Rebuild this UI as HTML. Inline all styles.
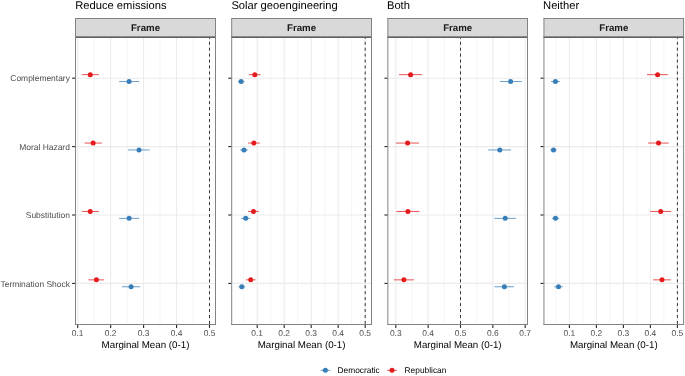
<!DOCTYPE html>
<html><head><meta charset="utf-8"><style>
html,body{margin:0;padding:0;background:#fff;width:685px;height:376px;overflow:hidden}
text{font-family:"Liberation Sans",Arial,sans-serif;text-rendering:geometricPrecision}
.ttl{font-size:11.2px;fill:#000}
.strip{font-size:9.7px;font-weight:bold;fill:#1A1A1A}
.ax{font-size:8.45px;fill:#4D4D4D}
.axt{font-size:9.75px;fill:#000}
.leg{font-size:8.35px;fill:#000}
</style></head><body>
<svg width="685" height="376" viewBox="0 0 685 376" style="display:block">
<rect width="685" height="376" fill="#fff"/>
<text x="75.20" y="9.1" class="ttl">Reduce emissions</text>
<rect x="75.50" y="18" width="140.00" height="19" fill="#D9D9D9"/>
<text x="145.50" y="30.8" class="strip" text-anchor="middle">Frame</text>
<rect x="75.50" y="38" width="140.00" height="286.00" fill="#fff"/>
<line x1="94.17" y1="38" x2="94.17" y2="324" stroke="#EBEBEB" stroke-width="0.53"/>
<line x1="127.12" y1="38" x2="127.12" y2="324" stroke="#EBEBEB" stroke-width="0.53"/>
<line x1="160.07" y1="38" x2="160.07" y2="324" stroke="#EBEBEB" stroke-width="0.53"/>
<line x1="193.03" y1="38" x2="193.03" y2="324" stroke="#EBEBEB" stroke-width="0.53"/>
<line x1="75.50" y1="78.2" x2="215.50" y2="78.2" stroke="#EBEBEB" stroke-width="1.07"/>
<line x1="75.50" y1="146.6" x2="215.50" y2="146.6" stroke="#EBEBEB" stroke-width="1.07"/>
<line x1="75.50" y1="215.0" x2="215.50" y2="215.0" stroke="#EBEBEB" stroke-width="1.07"/>
<line x1="75.50" y1="283.4" x2="215.50" y2="283.4" stroke="#EBEBEB" stroke-width="1.07"/>
<line x1="77.70" y1="38" x2="77.70" y2="324" stroke="#EBEBEB" stroke-width="1.07"/>
<line x1="110.65" y1="38" x2="110.65" y2="324" stroke="#EBEBEB" stroke-width="1.07"/>
<line x1="143.60" y1="38" x2="143.60" y2="324" stroke="#EBEBEB" stroke-width="1.07"/>
<line x1="176.55" y1="38" x2="176.55" y2="324" stroke="#EBEBEB" stroke-width="1.07"/>
<line x1="209.50" y1="38" x2="209.50" y2="324" stroke="#EBEBEB" stroke-width="1.07"/>
<line x1="209.50" y1="323.9" x2="209.50" y2="38" stroke="#333" stroke-width="1.0" stroke-dasharray="2.97 2.97"/>
<line x1="119.10" y1="81.55" x2="139.20" y2="81.55" stroke="#377EB8" stroke-width="0.75"/>
<circle cx="129.10" cy="81.55" r="2.5" fill="#377EB8"/>
<line x1="82.00" y1="74.65" x2="98.90" y2="74.65" stroke="#E41A1C" stroke-width="0.75"/>
<circle cx="90.30" cy="74.65" r="2.5" fill="#E41A1C"/>
<line x1="128.10" y1="149.95" x2="149.70" y2="149.95" stroke="#377EB8" stroke-width="0.75"/>
<circle cx="139.00" cy="149.95" r="2.5" fill="#377EB8"/>
<line x1="84.60" y1="143.05" x2="101.90" y2="143.05" stroke="#E41A1C" stroke-width="0.75"/>
<circle cx="93.10" cy="143.05" r="2.5" fill="#E41A1C"/>
<line x1="119.10" y1="218.35" x2="139.20" y2="218.35" stroke="#377EB8" stroke-width="0.75"/>
<circle cx="129.10" cy="218.35" r="2.5" fill="#377EB8"/>
<line x1="82.00" y1="211.45" x2="98.90" y2="211.45" stroke="#E41A1C" stroke-width="0.75"/>
<circle cx="90.20" cy="211.45" r="2.5" fill="#E41A1C"/>
<line x1="122.00" y1="286.75" x2="140.20" y2="286.75" stroke="#377EB8" stroke-width="0.75"/>
<circle cx="131.10" cy="286.75" r="2.5" fill="#377EB8"/>
<line x1="88.40" y1="279.85" x2="104.20" y2="279.85" stroke="#E41A1C" stroke-width="0.75"/>
<circle cx="96.40" cy="279.85" r="2.5" fill="#E41A1C"/>
<line x1="75.00" y1="18.5" x2="216.00" y2="18.5" stroke="#828282" stroke-width="1"/>
<line x1="75.00" y1="36.5" x2="216.00" y2="36.5" stroke="#8A8A8A" stroke-width="1"/>
<line x1="75.00" y1="37.5" x2="216.00" y2="37.5" stroke="#606060" stroke-width="1"/>
<line x1="75.00" y1="324.5" x2="216.00" y2="324.5" stroke="#828282" stroke-width="1"/>
<line x1="75.50" y1="18" x2="75.50" y2="325" stroke="#828282" stroke-width="1"/>
<line x1="215.50" y1="18" x2="215.50" y2="325" stroke="#828282" stroke-width="1"/>
<line x1="72.10" y1="78.2" x2="75.00" y2="78.2" stroke="#262626" stroke-width="1.1"/>
<line x1="72.10" y1="146.6" x2="75.00" y2="146.6" stroke="#262626" stroke-width="1.1"/>
<line x1="72.10" y1="215.0" x2="75.00" y2="215.0" stroke="#262626" stroke-width="1.1"/>
<line x1="72.10" y1="283.4" x2="75.00" y2="283.4" stroke="#262626" stroke-width="1.1"/>
<line x1="77.70" y1="325" x2="77.70" y2="327.9" stroke="#262626" stroke-width="1.1"/>
<text x="77.70" y="336.2" class="ax" text-anchor="middle">0.1</text>
<line x1="110.65" y1="325" x2="110.65" y2="327.9" stroke="#262626" stroke-width="1.1"/>
<text x="110.65" y="336.2" class="ax" text-anchor="middle">0.2</text>
<line x1="143.60" y1="325" x2="143.60" y2="327.9" stroke="#262626" stroke-width="1.1"/>
<text x="143.60" y="336.2" class="ax" text-anchor="middle">0.3</text>
<line x1="176.55" y1="325" x2="176.55" y2="327.9" stroke="#262626" stroke-width="1.1"/>
<text x="176.55" y="336.2" class="ax" text-anchor="middle">0.4</text>
<line x1="209.50" y1="325" x2="209.50" y2="327.9" stroke="#262626" stroke-width="1.1"/>
<text x="209.50" y="336.2" class="ax" text-anchor="middle">0.5</text>
<text x="145.50" y="347.8" class="axt" text-anchor="middle">Marginal Mean (0-1)</text>
<text x="231.40" y="9.1" class="ttl">Solar geoengineering</text>
<rect x="231.70" y="18" width="139.80" height="19" fill="#D9D9D9"/>
<text x="301.60" y="30.8" class="strip" text-anchor="middle">Frame</text>
<rect x="231.70" y="38" width="139.80" height="286.00" fill="#fff"/>
<line x1="243.70" y1="38" x2="243.70" y2="324" stroke="#EBEBEB" stroke-width="0.53"/>
<line x1="270.70" y1="38" x2="270.70" y2="324" stroke="#EBEBEB" stroke-width="0.53"/>
<line x1="297.70" y1="38" x2="297.70" y2="324" stroke="#EBEBEB" stroke-width="0.53"/>
<line x1="324.70" y1="38" x2="324.70" y2="324" stroke="#EBEBEB" stroke-width="0.53"/>
<line x1="351.70" y1="38" x2="351.70" y2="324" stroke="#EBEBEB" stroke-width="0.53"/>
<line x1="231.70" y1="78.2" x2="371.50" y2="78.2" stroke="#EBEBEB" stroke-width="1.07"/>
<line x1="231.70" y1="146.6" x2="371.50" y2="146.6" stroke="#EBEBEB" stroke-width="1.07"/>
<line x1="231.70" y1="215.0" x2="371.50" y2="215.0" stroke="#EBEBEB" stroke-width="1.07"/>
<line x1="231.70" y1="283.4" x2="371.50" y2="283.4" stroke="#EBEBEB" stroke-width="1.07"/>
<line x1="257.20" y1="38" x2="257.20" y2="324" stroke="#EBEBEB" stroke-width="1.07"/>
<line x1="284.20" y1="38" x2="284.20" y2="324" stroke="#EBEBEB" stroke-width="1.07"/>
<line x1="311.20" y1="38" x2="311.20" y2="324" stroke="#EBEBEB" stroke-width="1.07"/>
<line x1="338.20" y1="38" x2="338.20" y2="324" stroke="#EBEBEB" stroke-width="1.07"/>
<line x1="365.20" y1="38" x2="365.20" y2="324" stroke="#EBEBEB" stroke-width="1.07"/>
<line x1="365.20" y1="323.9" x2="365.20" y2="38" stroke="#333" stroke-width="1.0" stroke-dasharray="2.97 2.97"/>
<line x1="238.00" y1="81.55" x2="244.50" y2="81.55" stroke="#377EB8" stroke-width="0.75"/>
<circle cx="241.10" cy="81.55" r="2.5" fill="#377EB8"/>
<line x1="249.00" y1="74.65" x2="260.70" y2="74.65" stroke="#E41A1C" stroke-width="0.75"/>
<circle cx="254.80" cy="74.65" r="2.5" fill="#E41A1C"/>
<line x1="240.20" y1="149.95" x2="247.90" y2="149.95" stroke="#377EB8" stroke-width="0.75"/>
<circle cx="244.00" cy="149.95" r="2.5" fill="#377EB8"/>
<line x1="248.10" y1="143.05" x2="259.80" y2="143.05" stroke="#E41A1C" stroke-width="0.75"/>
<circle cx="253.90" cy="143.05" r="2.5" fill="#E41A1C"/>
<line x1="241.10" y1="218.35" x2="250.00" y2="218.35" stroke="#377EB8" stroke-width="0.75"/>
<circle cx="245.70" cy="218.35" r="2.5" fill="#377EB8"/>
<line x1="248.00" y1="211.45" x2="258.90" y2="211.45" stroke="#E41A1C" stroke-width="0.75"/>
<circle cx="253.50" cy="211.45" r="2.5" fill="#E41A1C"/>
<line x1="238.50" y1="286.75" x2="245.30" y2="286.75" stroke="#377EB8" stroke-width="0.75"/>
<circle cx="241.80" cy="286.75" r="2.5" fill="#377EB8"/>
<line x1="245.90" y1="279.85" x2="255.70" y2="279.85" stroke="#E41A1C" stroke-width="0.75"/>
<circle cx="250.70" cy="279.85" r="2.5" fill="#E41A1C"/>
<line x1="231.20" y1="18.5" x2="372.00" y2="18.5" stroke="#828282" stroke-width="1"/>
<line x1="231.20" y1="36.5" x2="372.00" y2="36.5" stroke="#8A8A8A" stroke-width="1"/>
<line x1="231.20" y1="37.5" x2="372.00" y2="37.5" stroke="#606060" stroke-width="1"/>
<line x1="231.20" y1="324.5" x2="372.00" y2="324.5" stroke="#828282" stroke-width="1"/>
<line x1="231.70" y1="18" x2="231.70" y2="325" stroke="#828282" stroke-width="1"/>
<line x1="371.50" y1="18" x2="371.50" y2="325" stroke="#828282" stroke-width="1"/>
<line x1="228.30" y1="78.2" x2="231.20" y2="78.2" stroke="#262626" stroke-width="1.1"/>
<line x1="228.30" y1="146.6" x2="231.20" y2="146.6" stroke="#262626" stroke-width="1.1"/>
<line x1="228.30" y1="215.0" x2="231.20" y2="215.0" stroke="#262626" stroke-width="1.1"/>
<line x1="228.30" y1="283.4" x2="231.20" y2="283.4" stroke="#262626" stroke-width="1.1"/>
<line x1="257.20" y1="325" x2="257.20" y2="327.9" stroke="#262626" stroke-width="1.1"/>
<text x="257.20" y="336.2" class="ax" text-anchor="middle">0.1</text>
<line x1="284.20" y1="325" x2="284.20" y2="327.9" stroke="#262626" stroke-width="1.1"/>
<text x="284.20" y="336.2" class="ax" text-anchor="middle">0.2</text>
<line x1="311.20" y1="325" x2="311.20" y2="327.9" stroke="#262626" stroke-width="1.1"/>
<text x="311.20" y="336.2" class="ax" text-anchor="middle">0.3</text>
<line x1="338.20" y1="325" x2="338.20" y2="327.9" stroke="#262626" stroke-width="1.1"/>
<text x="338.20" y="336.2" class="ax" text-anchor="middle">0.4</text>
<line x1="365.20" y1="325" x2="365.20" y2="327.9" stroke="#262626" stroke-width="1.1"/>
<text x="365.20" y="336.2" class="ax" text-anchor="middle">0.5</text>
<text x="301.60" y="347.8" class="axt" text-anchor="middle">Marginal Mean (0-1)</text>
<text x="386.95" y="9.1" class="ttl">Both</text>
<rect x="387.85" y="18" width="139.65" height="19" fill="#D9D9D9"/>
<text x="457.68" y="30.8" class="strip" text-anchor="middle">Frame</text>
<rect x="387.85" y="38" width="139.65" height="286.00" fill="#fff"/>
<line x1="411.98" y1="38" x2="411.98" y2="324" stroke="#EBEBEB" stroke-width="0.53"/>
<line x1="444.33" y1="38" x2="444.33" y2="324" stroke="#EBEBEB" stroke-width="0.53"/>
<line x1="476.68" y1="38" x2="476.68" y2="324" stroke="#EBEBEB" stroke-width="0.53"/>
<line x1="509.02" y1="38" x2="509.02" y2="324" stroke="#EBEBEB" stroke-width="0.53"/>
<line x1="387.85" y1="78.2" x2="527.50" y2="78.2" stroke="#EBEBEB" stroke-width="1.07"/>
<line x1="387.85" y1="146.6" x2="527.50" y2="146.6" stroke="#EBEBEB" stroke-width="1.07"/>
<line x1="387.85" y1="215.0" x2="527.50" y2="215.0" stroke="#EBEBEB" stroke-width="1.07"/>
<line x1="387.85" y1="283.4" x2="527.50" y2="283.4" stroke="#EBEBEB" stroke-width="1.07"/>
<line x1="395.80" y1="38" x2="395.80" y2="324" stroke="#EBEBEB" stroke-width="1.07"/>
<line x1="428.15" y1="38" x2="428.15" y2="324" stroke="#EBEBEB" stroke-width="1.07"/>
<line x1="460.50" y1="38" x2="460.50" y2="324" stroke="#EBEBEB" stroke-width="1.07"/>
<line x1="492.85" y1="38" x2="492.85" y2="324" stroke="#EBEBEB" stroke-width="1.07"/>
<line x1="525.20" y1="38" x2="525.20" y2="324" stroke="#EBEBEB" stroke-width="1.07"/>
<line x1="460.50" y1="323.9" x2="460.50" y2="38" stroke="#333" stroke-width="1.0" stroke-dasharray="2.97 2.97"/>
<line x1="499.90" y1="81.55" x2="521.80" y2="81.55" stroke="#377EB8" stroke-width="0.75"/>
<circle cx="510.60" cy="81.55" r="2.5" fill="#377EB8"/>
<line x1="398.90" y1="74.65" x2="421.90" y2="74.65" stroke="#E41A1C" stroke-width="0.75"/>
<circle cx="410.60" cy="74.65" r="2.5" fill="#E41A1C"/>
<line x1="488.20" y1="149.95" x2="511.00" y2="149.95" stroke="#377EB8" stroke-width="0.75"/>
<circle cx="499.80" cy="149.95" r="2.5" fill="#377EB8"/>
<line x1="396.00" y1="143.05" x2="419.00" y2="143.05" stroke="#E41A1C" stroke-width="0.75"/>
<circle cx="407.60" cy="143.05" r="2.5" fill="#E41A1C"/>
<line x1="494.20" y1="218.35" x2="516.10" y2="218.35" stroke="#377EB8" stroke-width="0.75"/>
<circle cx="505.20" cy="218.35" r="2.5" fill="#377EB8"/>
<line x1="396.40" y1="211.45" x2="419.40" y2="211.45" stroke="#E41A1C" stroke-width="0.75"/>
<circle cx="407.90" cy="211.45" r="2.5" fill="#E41A1C"/>
<line x1="494.60" y1="286.75" x2="513.90" y2="286.75" stroke="#377EB8" stroke-width="0.75"/>
<circle cx="504.40" cy="286.75" r="2.5" fill="#377EB8"/>
<line x1="394.00" y1="279.85" x2="413.90" y2="279.85" stroke="#E41A1C" stroke-width="0.75"/>
<circle cx="403.90" cy="279.85" r="2.5" fill="#E41A1C"/>
<line x1="387.35" y1="18.5" x2="528.00" y2="18.5" stroke="#828282" stroke-width="1"/>
<line x1="387.35" y1="36.5" x2="528.00" y2="36.5" stroke="#8A8A8A" stroke-width="1"/>
<line x1="387.35" y1="37.5" x2="528.00" y2="37.5" stroke="#606060" stroke-width="1"/>
<line x1="387.35" y1="324.5" x2="528.00" y2="324.5" stroke="#828282" stroke-width="1"/>
<line x1="387.85" y1="18" x2="387.85" y2="325" stroke="#828282" stroke-width="1"/>
<line x1="527.50" y1="18" x2="527.50" y2="325" stroke="#828282" stroke-width="1"/>
<line x1="384.45" y1="78.2" x2="387.35" y2="78.2" stroke="#262626" stroke-width="1.1"/>
<line x1="384.45" y1="146.6" x2="387.35" y2="146.6" stroke="#262626" stroke-width="1.1"/>
<line x1="384.45" y1="215.0" x2="387.35" y2="215.0" stroke="#262626" stroke-width="1.1"/>
<line x1="384.45" y1="283.4" x2="387.35" y2="283.4" stroke="#262626" stroke-width="1.1"/>
<line x1="395.80" y1="325" x2="395.80" y2="327.9" stroke="#262626" stroke-width="1.1"/>
<text x="395.80" y="336.2" class="ax" text-anchor="middle">0.3</text>
<line x1="428.15" y1="325" x2="428.15" y2="327.9" stroke="#262626" stroke-width="1.1"/>
<text x="428.15" y="336.2" class="ax" text-anchor="middle">0.4</text>
<line x1="460.50" y1="325" x2="460.50" y2="327.9" stroke="#262626" stroke-width="1.1"/>
<text x="460.50" y="336.2" class="ax" text-anchor="middle">0.5</text>
<line x1="492.85" y1="325" x2="492.85" y2="327.9" stroke="#262626" stroke-width="1.1"/>
<text x="492.85" y="336.2" class="ax" text-anchor="middle">0.6</text>
<line x1="525.20" y1="325" x2="525.20" y2="327.9" stroke="#262626" stroke-width="1.1"/>
<text x="525.20" y="336.2" class="ax" text-anchor="middle">0.7</text>
<text x="457.68" y="347.8" class="axt" text-anchor="middle">Marginal Mean (0-1)</text>
<text x="543.05" y="9.1" class="ttl">Neither</text>
<rect x="543.95" y="18" width="139.65" height="19" fill="#D9D9D9"/>
<text x="613.78" y="30.8" class="strip" text-anchor="middle">Frame</text>
<rect x="543.95" y="38" width="139.65" height="286.00" fill="#fff"/>
<line x1="555.90" y1="38" x2="555.90" y2="324" stroke="#EBEBEB" stroke-width="0.53"/>
<line x1="582.90" y1="38" x2="582.90" y2="324" stroke="#EBEBEB" stroke-width="0.53"/>
<line x1="609.90" y1="38" x2="609.90" y2="324" stroke="#EBEBEB" stroke-width="0.53"/>
<line x1="636.90" y1="38" x2="636.90" y2="324" stroke="#EBEBEB" stroke-width="0.53"/>
<line x1="663.90" y1="38" x2="663.90" y2="324" stroke="#EBEBEB" stroke-width="0.53"/>
<line x1="543.95" y1="78.2" x2="683.60" y2="78.2" stroke="#EBEBEB" stroke-width="1.07"/>
<line x1="543.95" y1="146.6" x2="683.60" y2="146.6" stroke="#EBEBEB" stroke-width="1.07"/>
<line x1="543.95" y1="215.0" x2="683.60" y2="215.0" stroke="#EBEBEB" stroke-width="1.07"/>
<line x1="543.95" y1="283.4" x2="683.60" y2="283.4" stroke="#EBEBEB" stroke-width="1.07"/>
<line x1="569.40" y1="38" x2="569.40" y2="324" stroke="#EBEBEB" stroke-width="1.07"/>
<line x1="596.40" y1="38" x2="596.40" y2="324" stroke="#EBEBEB" stroke-width="1.07"/>
<line x1="623.40" y1="38" x2="623.40" y2="324" stroke="#EBEBEB" stroke-width="1.07"/>
<line x1="650.40" y1="38" x2="650.40" y2="324" stroke="#EBEBEB" stroke-width="1.07"/>
<line x1="677.40" y1="38" x2="677.40" y2="324" stroke="#EBEBEB" stroke-width="1.07"/>
<line x1="677.40" y1="323.9" x2="677.40" y2="38" stroke="#333" stroke-width="1.0" stroke-dasharray="2.97 2.97"/>
<line x1="551.00" y1="81.55" x2="559.90" y2="81.55" stroke="#377EB8" stroke-width="0.75"/>
<circle cx="555.40" cy="81.55" r="2.5" fill="#377EB8"/>
<line x1="647.00" y1="74.65" x2="667.80" y2="74.65" stroke="#E41A1C" stroke-width="0.75"/>
<circle cx="657.60" cy="74.65" r="2.5" fill="#E41A1C"/>
<line x1="550.30" y1="149.95" x2="556.60" y2="149.95" stroke="#377EB8" stroke-width="0.75"/>
<circle cx="553.50" cy="149.95" r="2.5" fill="#377EB8"/>
<line x1="648.10" y1="143.05" x2="668.70" y2="143.05" stroke="#E41A1C" stroke-width="0.75"/>
<circle cx="658.50" cy="143.05" r="2.5" fill="#E41A1C"/>
<line x1="551.80" y1="218.35" x2="559.30" y2="218.35" stroke="#377EB8" stroke-width="0.75"/>
<circle cx="555.50" cy="218.35" r="2.5" fill="#377EB8"/>
<line x1="650.30" y1="211.45" x2="671.10" y2="211.45" stroke="#E41A1C" stroke-width="0.75"/>
<circle cx="660.70" cy="211.45" r="2.5" fill="#E41A1C"/>
<line x1="554.30" y1="286.75" x2="562.80" y2="286.75" stroke="#377EB8" stroke-width="0.75"/>
<circle cx="558.50" cy="286.75" r="2.5" fill="#377EB8"/>
<line x1="653.10" y1="279.85" x2="670.80" y2="279.85" stroke="#E41A1C" stroke-width="0.75"/>
<circle cx="662.00" cy="279.85" r="2.5" fill="#E41A1C"/>
<line x1="543.45" y1="18.5" x2="684.10" y2="18.5" stroke="#828282" stroke-width="1"/>
<line x1="543.45" y1="36.5" x2="684.10" y2="36.5" stroke="#8A8A8A" stroke-width="1"/>
<line x1="543.45" y1="37.5" x2="684.10" y2="37.5" stroke="#606060" stroke-width="1"/>
<line x1="543.45" y1="324.5" x2="684.10" y2="324.5" stroke="#828282" stroke-width="1"/>
<line x1="543.95" y1="18" x2="543.95" y2="325" stroke="#828282" stroke-width="1"/>
<line x1="683.60" y1="18" x2="683.60" y2="325" stroke="#828282" stroke-width="1"/>
<line x1="540.55" y1="78.2" x2="543.45" y2="78.2" stroke="#262626" stroke-width="1.1"/>
<line x1="540.55" y1="146.6" x2="543.45" y2="146.6" stroke="#262626" stroke-width="1.1"/>
<line x1="540.55" y1="215.0" x2="543.45" y2="215.0" stroke="#262626" stroke-width="1.1"/>
<line x1="540.55" y1="283.4" x2="543.45" y2="283.4" stroke="#262626" stroke-width="1.1"/>
<line x1="569.40" y1="325" x2="569.40" y2="327.9" stroke="#262626" stroke-width="1.1"/>
<text x="569.40" y="336.2" class="ax" text-anchor="middle">0.1</text>
<line x1="596.40" y1="325" x2="596.40" y2="327.9" stroke="#262626" stroke-width="1.1"/>
<text x="596.40" y="336.2" class="ax" text-anchor="middle">0.2</text>
<line x1="623.40" y1="325" x2="623.40" y2="327.9" stroke="#262626" stroke-width="1.1"/>
<text x="623.40" y="336.2" class="ax" text-anchor="middle">0.3</text>
<line x1="650.40" y1="325" x2="650.40" y2="327.9" stroke="#262626" stroke-width="1.1"/>
<text x="650.40" y="336.2" class="ax" text-anchor="middle">0.4</text>
<line x1="677.40" y1="325" x2="677.40" y2="327.9" stroke="#262626" stroke-width="1.1"/>
<text x="677.40" y="336.2" class="ax" text-anchor="middle">0.5</text>
<text x="613.78" y="347.8" class="axt" text-anchor="middle">Marginal Mean (0-1)</text>
<text x="69.9" y="81.30" class="ax" text-anchor="end">Complementary</text>
<text x="69.9" y="149.70" class="ax" text-anchor="end">Moral Hazard</text>
<text x="69.9" y="218.10" class="ax" text-anchor="end">Substitution</text>
<text x="69.9" y="286.50" class="ax" text-anchor="end">Termination Shock</text>
<line x1="320.60" y1="370.3" x2="330.20" y2="370.3" stroke="#377EB8" stroke-width="0.8"/>
<circle cx="325.40" cy="370.3" r="2.5" fill="#377EB8"/>
<text x="337.6" y="373.4" class="leg">Democratic</text>
<line x1="387.20" y1="370.3" x2="396.80" y2="370.3" stroke="#E41A1C" stroke-width="0.8"/>
<circle cx="392.00" cy="370.3" r="2.5" fill="#E41A1C"/>
<text x="404.6" y="373.4" class="leg">Republican</text>
</svg>
</body></html>
